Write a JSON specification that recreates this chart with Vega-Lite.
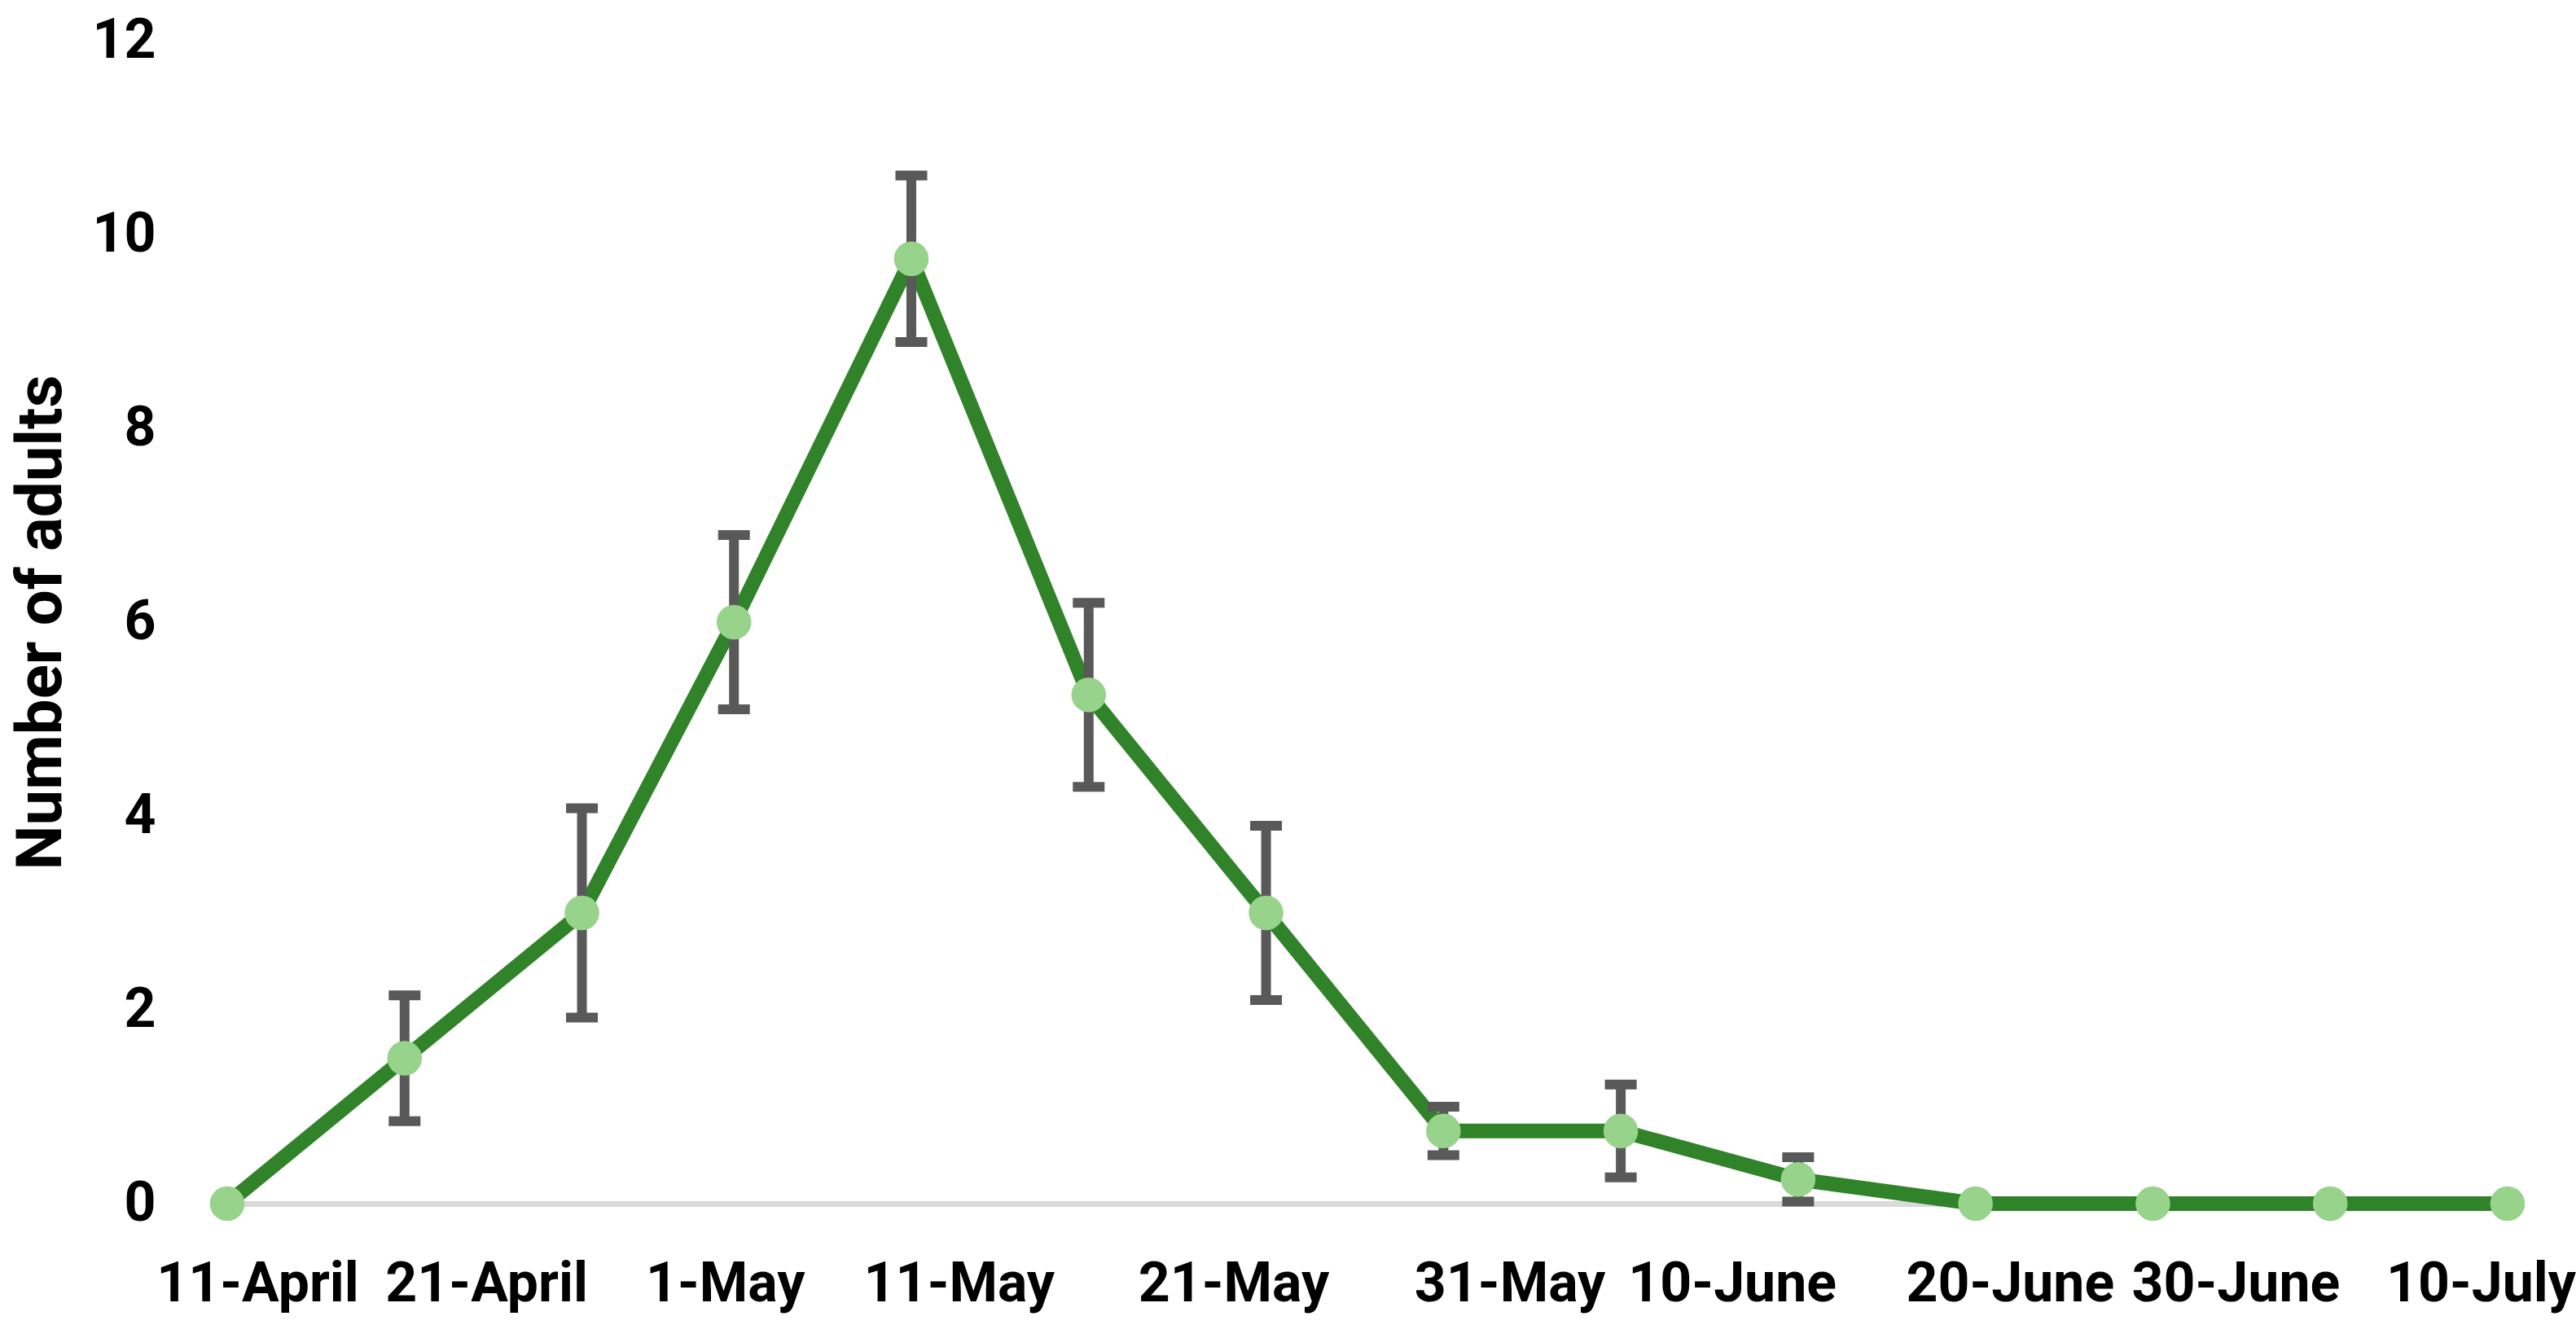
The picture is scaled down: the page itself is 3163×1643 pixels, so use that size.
{
  "$schema": "https://vega.github.io/schema/vega-lite/v6.json",
  "autosize": "none",
  "width": 2800,
  "height": 1428,
  "padding": {"left": 279, "top": 50, "right": 84, "bottom": 165},
  "background": "white",
  "config": {"view": {"stroke": null}},
  "data": {
    "values": [
      {"date": "2021-04-11", "adults": 0},
      {"date": "2021-04-18", "adults": 1.5, "lo": 0.85, "hi": 2.15},
      {"date": "2021-04-25", "adults": 3, "lo": 1.92, "hi": 4.08},
      {"date": "2021-05-01", "adults": 6, "lo": 5.1, "hi": 6.9},
      {"date": "2021-05-08", "adults": 9.75, "lo": 8.89, "hi": 10.61},
      {"date": "2021-05-15", "adults": 5.25, "lo": 4.3, "hi": 6.2},
      {"date": "2021-05-22", "adults": 3, "lo": 2.1, "hi": 3.9},
      {"date": "2021-05-29", "adults": 0.75, "lo": 0.5, "hi": 1.0},
      {"date": "2021-06-05", "adults": 0.75, "lo": 0.27, "hi": 1.23},
      {"date": "2021-06-12", "adults": 0.25, "lo": 0.02, "hi": 0.48},
      {"date": "2021-06-19", "adults": 0},
      {"date": "2021-06-26", "adults": 0},
      {"date": "2021-07-03", "adults": 0},
      {"date": "2021-07-10", "adults": 0}
    ]
  },
  "encoding": {
    "x": {
      "field": "date",
      "type": "temporal",
      "scale": {"type": "utc", "domain": [{"year": 2021, "month": 4, "date": 11, "utc": true}, {"year": 2021, "month": 7, "date": 10, "utc": true}], "nice": false},
      "axis": {
        "title": null,
        "values": [
          {"year": 2021, "month": 4, "date": 11, "utc": true},
          {"year": 2021, "month": 4, "date": 21, "utc": true},
          {"year": 2021, "month": 5, "date": 1, "utc": true},
          {"year": 2021, "month": 5, "date": 11, "utc": true},
          {"year": 2021, "month": 5, "date": 21, "utc": true},
          {"year": 2021, "month": 5, "date": 31, "utc": true},
          {"year": 2021, "month": 6, "date": 10, "utc": true},
          {"year": 2021, "month": 6, "date": 20, "utc": true},
          {"year": 2021, "month": 6, "date": 30, "utc": true},
          {"year": 2021, "month": 7, "date": 10, "utc": true}
        ],
        "labelExpr": "utcFormat(datum.value, '%-d-%B')",
        "labelOffset": {"expr": "[37, 7, -11, -35, -9, 19, -19, 11, -23, -33][round((datum.value - utc(2021, 3, 11)) / 864000000)]"},
        "grid": false,
        "ticks": false,
        "tickSize": 0,
        "domainColor": "#d9d9d9",
        "domainWidth": 7,
        "labelFont": "Roboto",
        "labelFontWeight": "bold",
        "labelFontSize": 68,
        "labelColor": "#000000",
        "labelPadding": 65,
        "labelLimit": 0,
        "labelFlush": false,
        "labelOverlap": false,
        "labelBound": false,
        "labelAlign": "center"
      }
    },
    "y": {
      "type": "quantitative",
      "scale": {"domain": [0, 12], "nice": false, "zero": true},
      "axis": {
        "title": "Number of adults",
        "values": [0, 2, 4, 6, 8, 10, 12],
        "grid": false,
        "domain": false,
        "ticks": false,
        "tickSize": 0,
        "labelFont": "Roboto",
        "labelFontWeight": "bold",
        "labelFontSize": 68,
        "labelColor": "#000000",
        "labelPadding": 88,
        "titleFont": "Roboto",
        "titleFontWeight": "bold",
        "titleFontSize": 78,
        "titleColor": "#000000",
        "titlePadding": 22
      }
    }
  },
  "layer": [
    {
      "mark": {"type": "line", "color": "#31832a", "strokeWidth": 18, "strokeJoin": "round"},
      "encoding": {"y": {"field": "adults", "type": "quantitative"}}
    },
    {
      "transform": [{"filter": "datum.hi != null"}],
      "mark": {"type": "rule", "color": "#595959", "strokeWidth": 12},
      "encoding": {
        "y": {"field": "lo", "type": "quantitative"},
        "y2": {"field": "hi"}
      }
    },
    {
      "transform": [{"filter": "datum.hi != null"}],
      "mark": {"type": "tick", "orient": "horizontal", "color": "#595959", "size": 39, "thickness": 12, "opacity": 1},
      "encoding": {"y": {"field": "lo", "type": "quantitative"}}
    },
    {
      "transform": [{"filter": "datum.hi != null"}],
      "mark": {"type": "tick", "orient": "horizontal", "color": "#595959", "size": 39, "thickness": 12, "opacity": 1},
      "encoding": {"y": {"field": "hi", "type": "quantitative"}}
    },
    {
      "mark": {"type": "circle", "color": "#97d38a", "size": 1810, "opacity": 1},
      "encoding": {"y": {"field": "adults", "type": "quantitative"}}
    }
  ]
}
